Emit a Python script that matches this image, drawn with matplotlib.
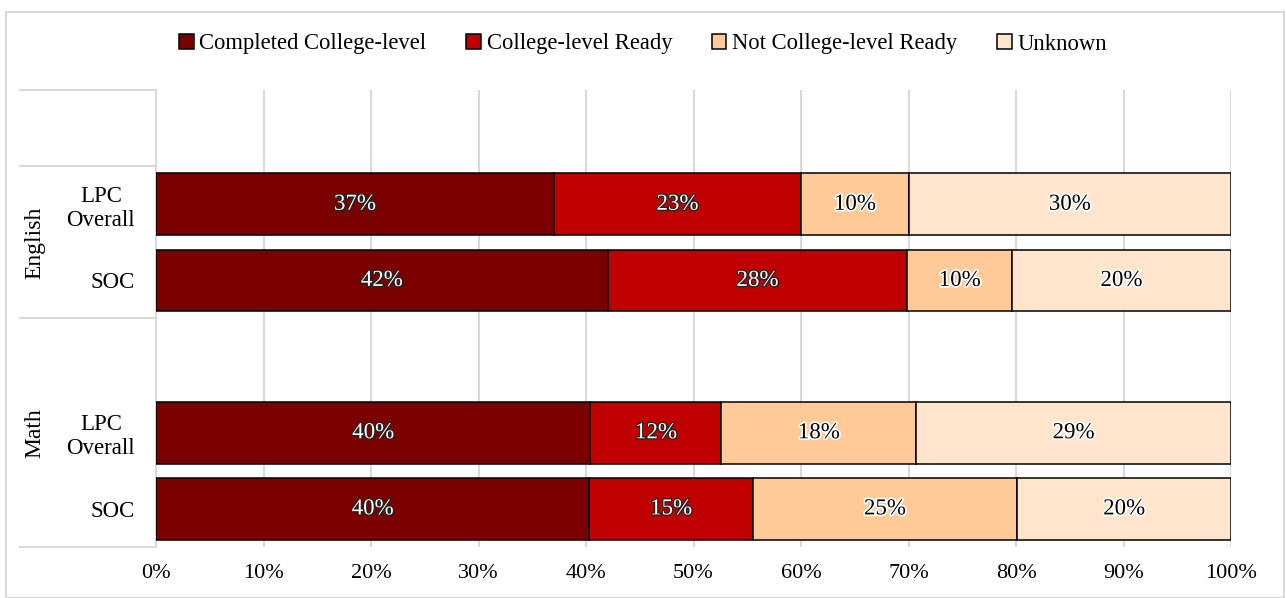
import numpy as np
import matplotlib
matplotlib.use("Agg")
import matplotlib.pyplot as plt
import matplotlib.patheffects as pe
from matplotlib.patches import Rectangle
import matplotlib.transforms as mtransforms

# rows top to bottom (blank rows are empty slots in the category axis)
row_labels = ["", "LPC\nOverall", "SOC", "", "LPC\nOverall", "SOC"]
series = ["Completed College-level", "College-level Ready",
          "Not College-level Ready", "Unknown"]
completed = [np.nan, 37.0, 42.0, np.nan, 40.4, 40.3]
ready = [np.nan, 23.0, 27.9, np.nan, 12.2, 15.2]
not_ready = [np.nan, 10.0, 9.7, np.nan, 18.1, 24.6]
unknown = [np.nan, 30.0, 20.4, np.nan, 29.3, 19.9]
labels = {
    "completed": ["", "37%", "42%", "", "40%", "40%"],
    "ready": ["", "23%", "28%", "", "12%", "15%"],
    "not_ready": ["", "10%", "10%", "", "18%", "25%"],
    "unknown": ["", "30%", "20%", "", "29%", "20%"],
}
groups = [("English", 0.5, 2.5), ("Math", 2.5, 5.5)]
group_edges = [-0.5, 0.5, 2.5, 5.5]

colors = ["#7B0000", "#C00000", "#FFCA98", "#FFE5CC"]
dark_text = [True, True, False, False]

plt.rcParams['font.family'] = ['Liberation Serif', 'DejaVu Serif']
plt.rcParams['font.size'] = 16

fig = plt.figure(figsize=(12.86, 5.98), dpi=100)
ax = fig.add_axes([156 / 1286, 1 - 547 / 598, 1075 / 1286, 457 / 598])

y = np.arange(len(row_labels))
valid = ~np.isnan(np.array(completed))
left = np.zeros(len(row_labels))
all_vals = [completed, ready, not_ready, unknown]
all_labs = [labels["completed"], labels["ready"], labels["not_ready"], labels["unknown"]]
for vals, lab, col, dark, name in zip(all_vals, all_labs, colors, dark_text, series):
    v = np.nan_to_num(np.array(vals))
    ax.barh(y[valid], v[valid], left=left[valid], height=0.81, color=col,
            edgecolor="black", linewidth=1.1, label=name, zorder=3)
    for i in y[valid]:
        cx = left[i] + v[i] / 2
        if dark:
            t = ax.text(cx, y[i], lab[i], ha="center", va="center",
                        color="white", fontsize=16.5, zorder=4)
            t.set_path_effects([pe.withStroke(linewidth=1.8, foreground="#222222")])
        else:
            t = ax.text(cx, y[i], lab[i], ha="center", va="center",
                        color="black", fontsize=16.5, zorder=4)
            t.set_path_effects([pe.withStroke(linewidth=2.5, foreground="white")])
    left = left + v

ax.set_xlim(0, 100)
ax.set_ylim(5.5, -0.5)
ax.set_xticks(np.arange(0, 101, 10))
ax.set_xticklabels([f"{t}%" for t in range(0, 101, 10)], fontsize=16)
ax.set_yticks(y)
ax.set_yticklabels(row_labels, multialignment="center", fontsize=16.5)
ax.tick_params(axis="both", length=0)
ax.tick_params(axis="y", pad=15)
ax.tick_params(axis="x", pad=12)
ax.grid(axis="x", color="#D9D9D9", linewidth=1.5, zorder=0)
for s in ["top", "right", "bottom"]:
    ax.spines[s].set_visible(False)
ax.spines["left"].set_color("#D9D9D9")
ax.spines["left"].set_linewidth(1.5)

# multi-level category separators and group labels
trans = mtransforms.blended_transform_factory(ax.transAxes, ax.transData)
x0 = (20 - 156) / 1075
for e in group_edges:
    ax.plot([x0, 0], [e, e], color="#D9D9D9", linewidth=1.5,
            transform=trans, clip_on=False)
for name, a, b in groups:
    ax.text((35 - 156) / 1075, (a + b) / 2, name, rotation=90, ha="center",
            va="center", transform=trans, fontsize=17)

fig.legend(loc="center", bbox_to_anchor=(0.5, 1 - 44 / 598), ncol=4, frameon=False,
           handlelength=0.65, handleheight=0.65, handletextpad=0.25,
           columnspacing=1.75, fontsize=16.3)

fig.patches.append(Rectangle((6 / 1286, 0), 1278 / 1286, 1 - 12 / 598,
                             transform=fig.transFigure, fill=False,
                             edgecolor="#D9D9D9", linewidth=1.5))

fig.savefig("out.png", dpi=100)
